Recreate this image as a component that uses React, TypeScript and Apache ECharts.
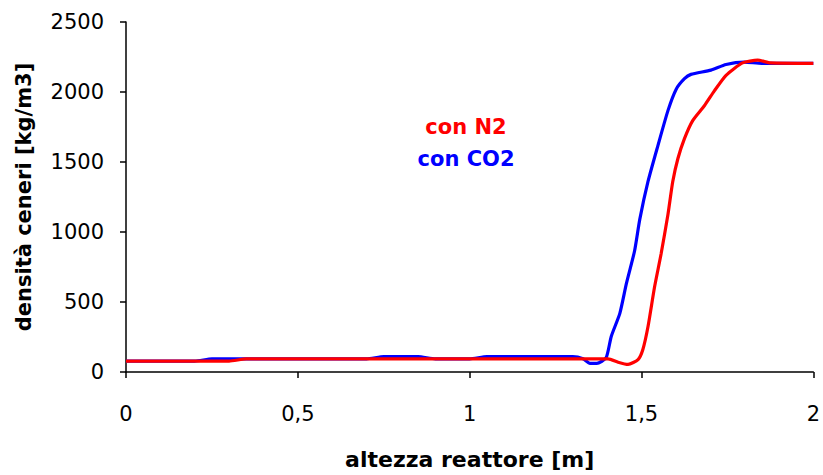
import React, { useEffect, useRef } from "react";
import * as echarts from "echarts";

const xTicks = [0, 0.5, 1, 1.5, 2];
const yTicks = [0, 500, 1000, 1500, 2000, 2500];

const co2X = [0, 0.2, 0.25, 0.7, 0.75, 0.85, 0.9, 1.0, 1.05, 1.3, 1.33, 1.35, 1.37, 1.397, 1.412, 1.437, 1.456, 1.48, 1.495, 1.519, 1.548, 1.577, 1.601, 1.625, 1.644, 1.702, 1.746, 1.799, 1.85, 2.0];
const co2Y = [78, 78, 94, 94, 110, 110, 94, 94, 110, 110, 95, 62, 62, 101, 254, 419, 631, 866, 1090, 1361, 1619, 1867, 2020, 2095, 2126, 2156, 2196, 2213, 2205, 2205];

const n2X = [0, 0.3, 0.35, 1.403, 1.432, 1.461, 1.49, 1.504, 1.519, 1.538, 1.557, 1.577, 1.591, 1.606, 1.625, 1.649, 1.683, 1.712, 1.746, 1.794, 1.838, 1.876, 2.0];
const n2Y = [78, 78, 94, 94, 70, 54, 89, 161, 325, 607, 843, 1125, 1361, 1525, 1667, 1796, 1902, 2008, 2119, 2208, 2227, 2208, 2205];

const labelN2 = "con N2";
const labelCO2 = "con CO2";
const xName = "altezza reattore [m]";
const yName = "densità ceneri [kg/m3]";

const FONT = "'DejaVu Sans', 'Liberation Sans', Arial, sans-serif";

export default function App() {
  const ref = useRef<HTMLDivElement>(null);
  useEffect(() => {
    if (!ref.current) return;
    const chart = echarts.init(ref.current, undefined, { renderer: "svg" });
    const zip = (xs: number[], ys: number[]) => xs.map((x, i) => [x, ys[i]]);
    chart.setOption({
      animation: false,
      backgroundColor: "#ffffff",
      grid: { left: 126, right: 7, top: 22, bottom: 99, containLabel: false },
      xAxis: {
        type: "value",
        min: xTicks[0],
        max: xTicks[xTicks.length - 1],
        interval: 0.5,
        name: xName,
        nameLocation: "middle",
        nameGap: 76,
        nameTextStyle: { fontFamily: FONT, fontSize: 22, fontWeight: "bold", color: "#000" },
        axisLine: { show: true, lineStyle: { color: "#000", width: 1.5 } },
        axisTick: { show: true, inside: false, length: 6, lineStyle: { color: "#000", width: 1.5 } },
        axisLabel: {
          margin: 31,
          fontFamily: FONT,
          fontSize: 21,
          color: "#000",
          formatter: (v: number) => String(v).replace(".", ","),
        },
        splitLine: { show: false },
      },
      yAxis: {
        type: "value",
        min: yTicks[0],
        max: yTicks[yTicks.length - 1],
        interval: 500,
        name: yName,
        nameLocation: "middle",
        nameGap: 92,
        nameTextStyle: { fontFamily: FONT, fontSize: 21, fontWeight: "bold", color: "#000" },
        axisLine: { show: true, lineStyle: { color: "#000", width: 1.5 } },
        axisTick: { show: true, inside: false, length: 6, lineStyle: { color: "#000", width: 1.5 } },
        axisLabel: {
          margin: 22,
          fontFamily: FONT,
          fontSize: 21,
          color: "#000",
          formatter: (v: number) => String(v),
        },
        splitLine: { show: false },
      },
      series: [
        {
          name: labelCO2,
          type: "line",
          data: zip(co2X, co2Y),
          showSymbol: false,
          smooth: 0.2,
          lineStyle: { color: "#0000ff", width: 3.2 },
          z: 2,
        },
        {
          name: labelN2,
          type: "line",
          data: zip(n2X, n2Y),
          showSymbol: false,
          smooth: 0.2,
          lineStyle: { color: "#ff0000", width: 3.2 },
          z: 3,
        },
      ],
      graphic: [
        {
          type: "text",
          x: 466,
          y: 127,
          style: {
            text: labelN2,
            fill: "#ff0000",
            font: `bold 21px ${FONT}`,
            textAlign: "center",
            textVerticalAlign: "middle",
          },
        },
        {
          type: "text",
          x: 466,
          y: 159,
          style: {
            text: labelCO2,
            fill: "#0000ff",
            font: `bold 21px ${FONT}`,
            textAlign: "center",
            textVerticalAlign: "middle",
          },
        },
      ],
    });
    return () => chart.dispose();
  }, []);
  return <div ref={ref} style={{ width: 823, height: 475, position: "absolute", left: 0, top: 0 }} />;
}
